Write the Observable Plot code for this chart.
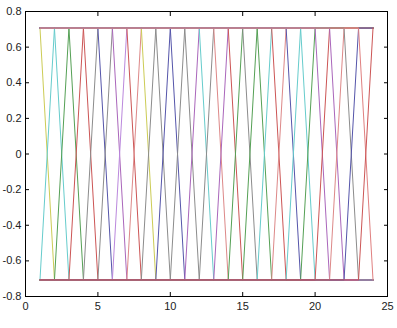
<!DOCTYPE html>
<html>
<head>
<meta charset="utf-8">
<script src="https://cdn.jsdelivr.net/npm/d3@7"></script>
<script src="https://cdn.jsdelivr.net/npm/@observablehq/plot@0.6"></script>
<style>
  html, body { margin: 0; padding: 0; background: #ffffff; }
  #chart { width: 397px; height: 328px; }
</style>
</head>
<body>
<div id="chart"></div>
<script>
// ---- data ----
const xs = [1, 2, 3, 4, 5, 6, 7, 8, 9, 10, 11, 12, 13, 14, 15, 16, 17, 18, 19, 20, 21, 22, 23, 24];
const level = 0.7071;
// each pair of lines switches sign between x = k and x = k + 1
const switchAt = [1, 2, 3, 4, 5, 6, 7, 8, 9, 10, 11, 12, 13, 14, 15, 16, 17, 18, 19, 20, 21, 22, 23];
const downColors = ["#cccc55", "#66cccc", "#55a055", "#cc5555", "#5555aa", "#aa66bb", "#cc5555", "#cccc55",
                    "#8c8c8c", "#5555aa", "#8c8c8c", "#66cccc", "#dd8888", "#cc5555", "#8c8c8c", "#55a055",
                    "#cc5555", "#5555aa", "#66cccc", "#aa66bb", "#aa66bb", "#8c8c8c", "#e08080"];
const upColors   = ["#66cccc", "#55a055", "#cc5555", "#8c8c8c", "#8c8c8c", "#bb88dd", "#dd8888", "#8c8c8c",
                    "#5555aa", "#8c8c8c", "#aa66bb", "#8c8c8c", "#aa66bb", "#55a055", "#55a055", "#66cccc",
                    "#dd8888", "#66cccc", "#55a055", "#cc5555", "#dd8888", "#5555aa", "#cc5555"];
const xTicks = [0, 5, 10, 15, 20, 25];
const yTicks = [-0.8, -0.6, -0.4, -0.2, 0, 0.2, 0.4, 0.6, 0.8];

// ---- build series ----
const lineMarks = [];
switchAt.forEach((k, i) => {
  const down = xs.map(x => ({x, y: x <= k ? level : -level}));
  const up = xs.map(x => ({x, y: x <= k ? -level : level}));
  lineMarks.push(Plot.line(down, {x: "x", y: "y", stroke: downColors[i], strokeWidth: 1}));
  lineMarks.push(Plot.line(up, {x: "x", y: "y", stroke: upColors[i], strokeWidth: 1}));
});

const fmtY = d => (d === 0 ? "0" : String(+d.toFixed(1)));
const fmtX = d => String(d);

const chart = Plot.plot({
  width: 397,
  height: 328,
  marginLeft: 25,
  marginRight: 10,
  marginTop: 11,
  marginBottom: 32,
  style: {background: "#ffffff", fontFamily: "'Liberation Sans', Arial, sans-serif", fontSize: "11px", color: "#222"},
  x: {domain: [0, 25]},
  y: {domain: [-0.8, 0.8]},
  marks: [
    ...lineMarks,
    // inward ticks on all four sides
    Plot.axisX(xTicks, {anchor: "bottom", tickSize: -4, tickFormat: () => "", label: null, stroke: "#000"}),
    Plot.axisX(xTicks, {anchor: "top", tickSize: -4, tickFormat: () => "", label: null, stroke: "#000"}),
    Plot.axisY(yTicks, {anchor: "left", tickSize: -4, tickFormat: () => "", label: null, stroke: "#000"}),
    Plot.axisY(yTicks, {anchor: "right", tickSize: -4, tickFormat: () => "", label: null, stroke: "#000"}),
    // tick labels
    Plot.axisX(xTicks, {anchor: "bottom", tickSize: 0, tickPadding: 6, tickFormat: fmtX, label: null, fill: "#222"}),
    Plot.axisY(yTicks, {anchor: "left", tickSize: 0, tickPadding: 4, tickFormat: fmtY, label: null, fill: "#222"}),
    Plot.frame({stroke: "#000", strokeWidth: 1})
  ]
});
document.getElementById("chart").appendChild(chart);
</script>
</body>
</html>
